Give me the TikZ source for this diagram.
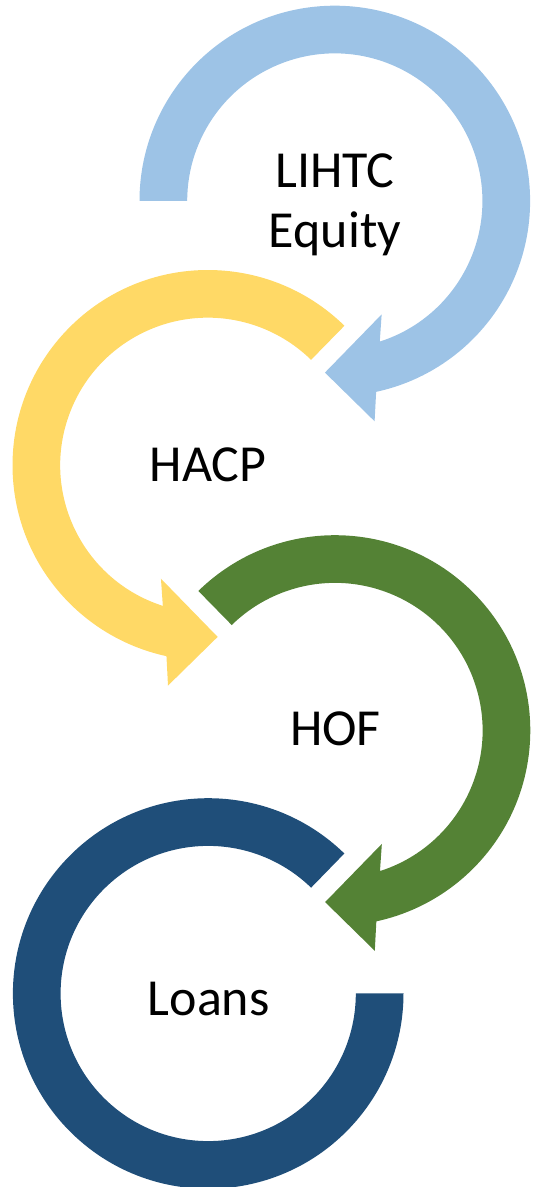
\documentclass[tikz,border=0pt]{standalone}
\usepackage{fontspec}
\setmainfont{Carlito}
\definecolor{cblue}{RGB}{157,195,230}
\definecolor{cyellow}{RGB}{255,217,102}
\definecolor{cgreen}{RGB}{84,130,53}
\definecolor{cnavy}{RGB}{31,78,121}
\newcommand\ringarrow[1]{(#1:195.3) arc[start angle=#1, end angle=-77.78, radius=195.3]
  -- (39.8,-220.3) -- (-9.85,-171.6) -- (46.85,-113.4) -- (-72.26:147.6)
  arc[start angle=-72.26, end angle=#1, radius=147.6] -- cycle}
\begin{document}
\begin{tikzpicture}[x=1pt,y=1pt,
  lbl/.style={inner sep=0pt, font=\fontsize{52}{60}\selectfont, text=black}]
\useasboundingbox (0,0) rectangle (533,1187);
\clip (0,0) rectangle (533,1187);
% light blue arrow
\begin{scope}[shift={(334.8,986)}]
  \fill[cblue] \ringarrow{180};
\end{scope}
% yellow arrow (mirrored)
\begin{scope}[shift={(207.8,721.7)}, xscale=-1]
  \fill[cyellow] \ringarrow{134.4};
\end{scope}
% green arrow
\begin{scope}[shift={(335,456.5)}]
  \fill[cgreen] \ringarrow{134.4};
\end{scope}
% navy ring
\begin{scope}[shift={(208.2,193.5)}]
  \fill[cnavy] (45.8:195.3) arc[start angle=45.8, end angle=360, radius=195.3]
    -- (0:147.6) arc[start angle=360, end angle=45.8, radius=147.6] -- cycle;
\end{scope}
\node[lbl, anchor=base] (t1) at (335,999) {LIHTC};
\node[lbl, anchor=base] (t1b) at (335,939) {Equity};
\node[lbl, anchor=base] (t2) at (208,705.3) {HACP};
\node[lbl, anchor=base] (t3) at (335.5,441) {HOF};
\node[lbl, anchor=base] (t4) at (208.7,171) {Loans};
\end{tikzpicture}
\end{document}
